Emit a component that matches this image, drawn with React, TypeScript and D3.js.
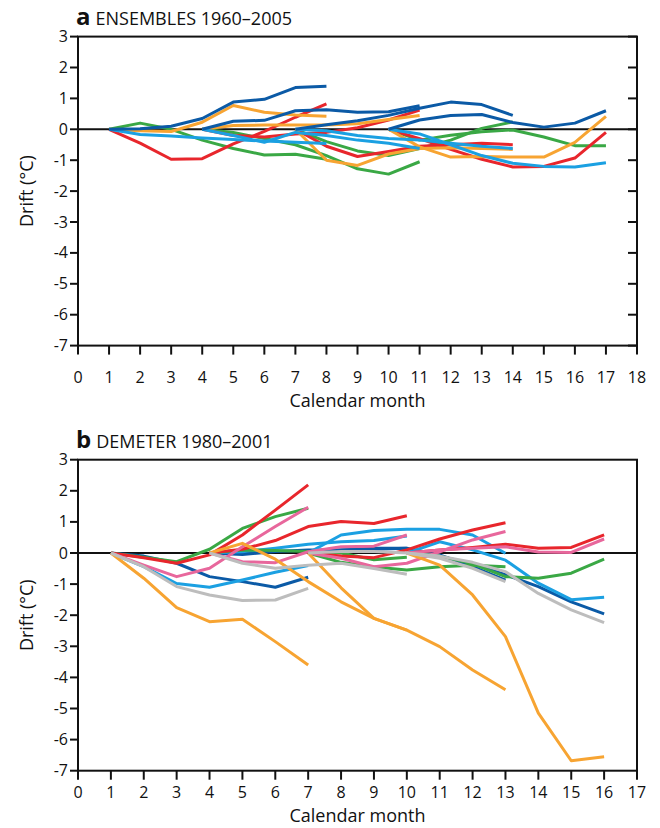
import React from "react";
import * as d3 from "d3";

// ---------- Tick labels ----------
const Y_TICKS = [3, 2, 1, 0, -1, -2, -3, -4, -5, -6, -7];
const X_TICKS_A = d3.range(0, 19);
const X_TICKS_B = d3.range(0, 18);

// ---------- Panel a: ENSEMBLES 1960–2005 (start months 1,4,7,10; 8 points each) ----------
const ENS_STARTS = [1, 4, 7, 10];
const ENS_DARKBLUE = [
  [0, 0.02, 0.1, 0.35, 0.88, 0.97, 1.35, 1.39],
  [0, 0.26, 0.29, 0.6, 0.63, 0.55, 0.57, 0.76],
  [0, 0.15, 0.28, 0.45, 0.68, 0.88, 0.8, 0.45],
  [0, 0.3, 0.45, 0.48, 0.22, 0.07, 0.2, 0.6],
];
const ENS_LIGHTBLUE = [
  [0, -0.17, -0.22, -0.28, -0.33, -0.38, -0.42, -0.46],
  [0, -0.2, -0.42, -0.1, -0.2, -0.35, -0.45, -0.62],
  [0, -0.05, -0.2, -0.3, -0.35, -0.45, -0.55, -0.62],
  [0, -0.15, -0.5, -0.85, -1.1, -1.2, -1.22, -1.08],
];
const ENS_RED = [
  [0, -0.45, -0.97, -0.95, -0.47, -0.07, 0.39, 0.82],
  [0, -0.2, -0.25, -0.15, -0.1, 0.05, 0.3, 0.62],
  [0, -0.55, -0.88, -0.72, -0.55, -0.5, -0.45, -0.5],
  [0, -0.3, -0.65, -0.97, -1.22, -1.2, -0.93, -0.1],
];
const ENS_GREEN = [
  [0, 0.2, 0, -0.35, -0.62, -0.83, -0.81, -0.97],
  [0, -0.1, -0.3, -0.5, -0.85, -1.28, -1.45, -1.05],
  [0, -0.4, -0.7, -0.85, -0.62, -0.35, 0.03, 0.24],
  [0, -0.35, -0.19, -0.08, -0.02, -0.25, -0.53, -0.53],
];
const ENS_ORANGE = [
  [0, -0.05, -0.07, 0.23, 0.77, 0.55, 0.46, 0.42],
  [0, 0.12, 0.14, 0.14, 0.14, 0.18, 0.32, 0.45],
  [0, -1.0, -1.17, -0.8, -0.62, -0.6, -0.62, -0.65],
  [0, -0.57, -0.9, -0.88, -0.9, -0.9, -0.42, 0.42],
];

// ---------- Panel b: DEMETER 1980–2001 (start months 1,4,7,10; 7 points each) ----------
const DEM_STARTS = [1, 4, 7, 10];
const DEM_DARKBLUE = [
  [0, -0.1, -0.33, -0.76, -0.92, -1.1, -0.78],
  [0, -0.05, 0.05, 0.1, 0.1, 0.12, 0.15],
  [0, 0.1, 0.15, 0.15, -0.06, -0.44, -0.87],
  [0, -0.1, -0.35, -0.7, -1.08, -1.57, -1.96],
];
const DEM_LIGHTBLUE = [
  [0, -0.44, -0.98, -1.1, -0.87, -0.62, -0.4],
  [0, 0.04, 0.15, 0.28, 0.36, 0.4, 0.55],
  [0, 0.58, 0.72, 0.76, 0.76, 0.58, -0.01],
  [0, 0.36, 0.1, -0.23, -0.97, -1.5, -1.42],
];
const DEM_GREEN = [
  [0, -0.14, -0.28, 0.12, 0.79, 1.17, 1.44],
  [0, 0.1, 0.08, 0.05, 0.0, -0.22, -0.14],
  [0, -0.3, -0.45, -0.55, -0.44, -0.39, -0.44],
  [0, -0.1, -0.35, -0.76, -0.81, -0.65, -0.2],
];
const DEM_RED = [
  [0, -0.15, -0.33, -0.06, 0.58, 1.38, 2.19],
  [0, 0.12, 0.4, 0.85, 1.01, 0.95, 1.2],
  [0, -0.1, -0.15, 0.1, 0.45, 0.74, 0.97],
  [0, 0.1, 0.18, 0.28, 0.15, 0.18, 0.58],
];
const DEM_PINK = [
  [0, -0.39, -0.76, -0.49, 0.2, 0.85, 1.47],
  [0, -0.28, -0.31, 0.04, 0.2, 0.22, 0.58],
  [0, -0.17, -0.44, -0.33, 0.04, 0.42, 0.69],
  [0, 0.1, 0.15, 0.2, 0.03, 0.02, 0.45],
];
const DEM_ORANGE = [
  [0, -0.81, -1.76, -2.21, -2.13, -2.85, -3.6],
  [0, 0.31, -0.2, -0.92, -1.57, -2.1, -2.48],
  [0, -1.12, -2.1, -2.48, -3.01, -3.76, -4.4],
  [0, -0.39, -1.35, -2.69, -5.15, -6.68, -6.55],
];
const DEM_GREY = [
  [0, -0.44, -1.08, -1.35, -1.53, -1.51, -1.14],
  [0, -0.33, -0.49, -0.39, -0.33, -0.5, -0.68],
  [0, 0.05, 0.05, 0.0, -0.17, -0.49, -0.92],
  [0, -0.1, -0.3, -0.6, -1.3, -1.83, -2.24],
];

const C_DARKBLUE = "#0b5aa6";
const C_LIGHTBLUE = "#1ba0e2";
const C_RED = "#e8262c";
const C_GREEN = "#3aa845";
const C_ORANGE = "#f7a432";
const C_PINK = "#e8679c";
const C_GREY = "#bdbdbd";

const FONT = "'Open Sans', 'Noto Sans', sans-serif";

type Series = { color: string; rows: number[][] };

function Panel(props: {
  letter: string;
  title: string;
  top: number;
  bottom: number;
  xMax: number;
  xTicks: number[];
  starts: number[];
  series: Series[];
  rightTicks: boolean;
  titleY: number;
  tickLabelY: number;
  axisTitleY: number;
}) {
  const left = 78;
  const right = 637;
  const x = d3.scaleLinear().domain([0, props.xMax]).range([left, right]);
  const y = d3.scaleLinear().domain([3, -7]).range([props.top, props.bottom]);
  const line = d3
    .line<[number, number]>()
    .x((d) => x(d[0]))
    .y((d) => y(d[1]));
  const midY = (props.top + props.bottom) / 2;
  return (
    <g>
      <text x={76} y={props.titleY} fontFamily={FONT} fill="#111">
        <tspan fontWeight="bold" fontSize={24}>{props.letter}</tspan>
        <tspan fontSize={18} dx={5}>{props.title}</tspan>
      </text>
      {/* zero line */}
      <line x1={left} x2={right} y1={y(0)} y2={y(0)} stroke="#111" strokeWidth={2} />
      {props.series.map((s, si) =>
        s.rows.map((row, ri) => {
          const pts: [number, number][] = row.map((v, i) => [props.starts[ri] + i, v]);
          return (
            <path
              key={si + "-" + ri}
              d={line(pts) || ""}
              fill="none"
              stroke={s.color}
              strokeWidth={3}
              strokeLinejoin="round"
            />
          );
        })
      )}
      {/* frame */}
      <rect
        x={left}
        y={props.top}
        width={right - left}
        height={props.bottom - props.top}
        fill="none"
        stroke="#111"
        strokeWidth={2}
      />
      {Y_TICKS.map((t) => (
        <g key={"y" + t}>
          <line x1={left - 8} x2={left} y1={y(t)} y2={y(t)} stroke="#111" strokeWidth={2} />
          {props.rightTicks && (
            <line x1={right - 9} x2={right} y1={y(t)} y2={y(t)} stroke="#111" strokeWidth={2} />
          )}
          <text
            x={left - 10}
            y={y(t) + 5.5}
            textAnchor="end"
            fontFamily={FONT}
            fontSize={16}
            fill="#111"
          >
            {t}
          </text>
        </g>
      ))}
      {props.xTicks.map((t) => (
        <g key={"x" + t}>
          <line x1={x(t)} x2={x(t)} y1={props.bottom} y2={props.bottom + 9} stroke="#111" strokeWidth={2} />
          <text
            x={x(t)}
            y={props.tickLabelY}
            textAnchor="middle"
            fontFamily={FONT}
            fontSize={16}
            fill="#111"
          >
            {t}
          </text>
        </g>
      ))}
      <text
        x={(left + right) / 2}
        y={props.axisTitleY}
        textAnchor="middle"
        fontFamily={FONT}
        fontSize={18}
        fill="#111"
      >
        Calendar month
      </text>
      <text
        transform={`translate(33,${midY}) rotate(-90)`}
        textAnchor="middle"
        fontFamily={FONT}
        fontSize={18}
        fill="#111"
      >
        Drift (°C)
      </text>
    </g>
  );
}

export default function App() {
  const ensSeries: Series[] = [
    { color: C_GREEN, rows: ENS_GREEN },
    { color: C_RED, rows: ENS_RED },
    { color: C_ORANGE, rows: ENS_ORANGE },
    { color: C_LIGHTBLUE, rows: ENS_LIGHTBLUE },
    { color: C_DARKBLUE, rows: ENS_DARKBLUE },
  ];
  const demSeries: Series[] = [
    { color: C_DARKBLUE, rows: DEM_DARKBLUE },
    { color: C_LIGHTBLUE, rows: DEM_LIGHTBLUE },
    { color: C_GREEN, rows: DEM_GREEN },
    { color: C_RED, rows: DEM_RED },
    { color: C_PINK, rows: DEM_PINK },
    { color: C_ORANGE, rows: DEM_ORANGE },
    { color: C_GREY, rows: DEM_GREY },
  ];
  return (
    <svg
      width={660}
      height={828}
      viewBox="0 0 660 828"
      style={{ position: "absolute", left: 0, top: 0, background: "#fff" }}
    >
      <rect width={660} height={828} fill="#fff" />
      <Panel
        letter="a"
        title="ENSEMBLES 1960–2005"
        top={36.6}
        bottom={345.6}
        xMax={18}
        xTicks={X_TICKS_A}
        starts={ENS_STARTS}
        series={ensSeries}
        rightTicks={true}
        titleY={25}
        tickLabelY={383}
        axisTitleY={407}
      />
      <Panel
        letter="b"
        title="DEMETER 1980–2001"
        top={459.7}
        bottom={770.7}
        xMax={17}
        xTicks={X_TICKS_B}
        starts={DEM_STARTS}
        series={demSeries}
        rightTicks={false}
        titleY={448}
        tickLabelY={798}
        axisTitleY={822}
      />
    </svg>
  );
}
